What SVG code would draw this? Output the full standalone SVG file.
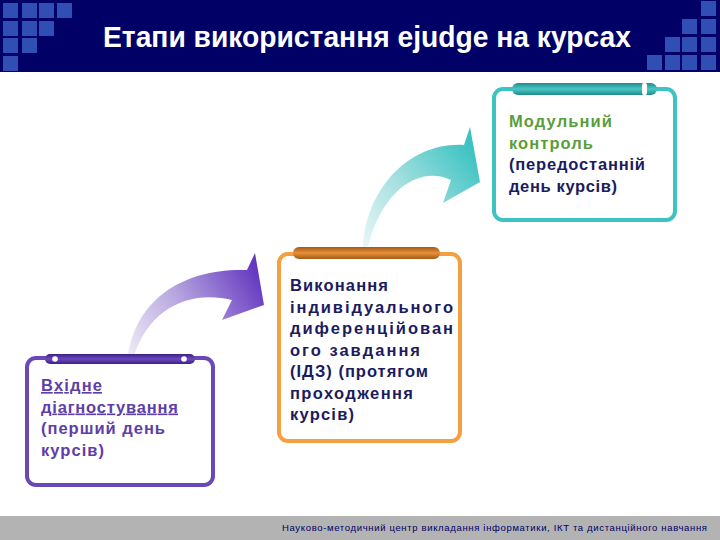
<svg xmlns="http://www.w3.org/2000/svg" width="720" height="540" viewBox="0 0 720 540">
<style>
.sq{fill:#2F4FB4}
.title{font-family:"Liberation Sans",Arial,sans-serif;font-weight:bold;font-size:29px;fill:#ffffff}
.t{font-family:"Liberation Sans",Arial,sans-serif;font-weight:bold;font-size:16.5px}
.foot{font-family:"Liberation Sans",Arial,sans-serif;font-size:9.5px;fill:#000066}
.box{fill:#ffffff;stroke-width:4}
</style>
<defs>
<linearGradient id="gPurple" x1="130" y1="356" x2="262" y2="280" gradientUnits="userSpaceOnUse">
<stop offset="0" stop-color="#EEEAF7"/>
<stop offset="0.45" stop-color="#B9A8E0"/>
<stop offset="1" stop-color="#6438C0"/>
</linearGradient>
<linearGradient id="gTeal" x1="365" y1="246" x2="478" y2="155" gradientUnits="userSpaceOnUse">
<stop offset="0" stop-color="#E6F6F6"/>
<stop offset="0.45" stop-color="#A6E0E0"/>
<stop offset="1" stop-color="#3CC2C2"/>
</linearGradient>
<linearGradient id="barP" x1="0" y1="0" x2="0" y2="1">
<stop offset="0" stop-color="#3E2080"/>
<stop offset="0.5" stop-color="#6A48C0"/>
<stop offset="1" stop-color="#3E2080"/>
</linearGradient>
<linearGradient id="barO" x1="0" y1="0" x2="0" y2="1">
<stop offset="0" stop-color="#A05A18"/>
<stop offset="0.5" stop-color="#E89038"/>
<stop offset="1" stop-color="#A05A18"/>
</linearGradient>
<linearGradient id="barT" x1="0" y1="0" x2="0" y2="1">
<stop offset="0" stop-color="#1E8C8C"/>
<stop offset="0.5" stop-color="#4CC6C6"/>
<stop offset="1" stop-color="#1E8C8C"/>
</linearGradient>
</defs>

<g id="header">
<rect x="0" y="0" width="720" height="72" fill="#000066"/>
<rect class="sq" x="3" y="3" width="15" height="15"/>
<rect class="sq" x="22" y="3" width="15" height="15"/>
<rect class="sq" x="39" y="3" width="15" height="15"/>
<rect class="sq" x="57" y="3" width="15" height="15"/>
<rect class="sq" x="3" y="21" width="15" height="15"/>
<rect class="sq" x="22" y="21" width="15" height="15"/>
<rect class="sq" x="39" y="21" width="15" height="15"/>
<rect class="sq" x="3" y="38" width="15" height="15"/>
<rect class="sq" x="22" y="38" width="15" height="15"/>
<rect class="sq" x="3" y="56" width="15" height="15"/>
<rect class="sq" x="701" y="1" width="15" height="15"/>
<rect class="sq" x="682" y="19" width="15" height="15"/>
<rect class="sq" x="701" y="19" width="15" height="15"/>
<rect class="sq" x="665" y="37" width="15" height="15"/>
<rect class="sq" x="682" y="37" width="15" height="15"/>
<rect class="sq" x="701" y="37" width="15" height="15"/>
<rect class="sq" x="647" y="55" width="15" height="15"/>
<rect class="sq" x="665" y="55" width="15" height="15"/>
<rect class="sq" x="682" y="55" width="15" height="15"/>
<rect class="sq" x="701" y="55" width="15" height="15"/>
<text class="title" x="103" y="47" textLength="528" lengthAdjust="spacingAndGlyphs">Етапи використання ejudge на курсах</text>
</g>

<g id="connectors">
<path d="M128 356 C136 300 182 268 247 270 L255 253 L264 305 L222 320 L232 300 C192 290 150 306 134 356 Z" fill="url(#gPurple)"/>
<path d="M363 247 C366 190 408 142 464 145 L470 127 L480 182 L443 203 L451 180 C422 166 384 186 368 246 Z" fill="url(#gTeal)"/>
</g>

<g id="node1">
<rect class="box" x="27" y="358" width="186" height="127" rx="9" stroke="#6A48B8"/>
<rect x="45" y="354" width="150" height="10" rx="5" fill="url(#barP)"/>
<circle cx="55" cy="359" r="2.8" fill="#ffffff"/>
<circle cx="184" cy="359" r="2.8" fill="#ffffff"/>
<g class="t" fill="#5E3EA8">
<text x="41" y="391" textLength="61" text-decoration="underline">Вхідне</text>
<text x="41" y="412.5" textLength="137" text-decoration="underline">діагностування</text>
<text x="41" y="434" textLength="124">(перший день</text>
<text x="41" y="455.5" textLength="63">курсів)</text>
</g>
</g>

<g id="node2">
<rect class="box" x="279" y="254" width="181" height="187" rx="9" stroke="#F4A040"/>
<rect x="293" y="247" width="147" height="12" rx="6" fill="url(#barO)"/>
<g class="t" fill="#1B1B5E">
<text x="290" y="291" textLength="98">Виконання</text>
<text x="290" y="312.5" textLength="163">індивідуального</text>
<text x="290" y="334" textLength="163">диференційован</text>
<text x="290" y="355.5" textLength="130">ого завдання</text>
<text x="290" y="377" textLength="138">(ІДЗ) (протягом</text>
<text x="290" y="398.5" textLength="123">проходження</text>
<text x="290" y="420" textLength="64">курсів)</text>
</g>
</g>

<g id="node3">
<rect class="box" x="494" y="89" width="181" height="131" rx="9" stroke="#3EC3C3"/>
<rect x="512" y="83" width="145" height="12" rx="6" fill="url(#barT)"/>
<rect x="642" y="83" width="5" height="12" rx="2" fill="#ffffff"/>
<g class="t">
<text x="509" y="127" textLength="103" fill="#5A9E3C">Модульний</text>
<text x="509" y="148.5" textLength="84" fill="#5A9E3C">контроль</text>
<text x="509" y="170" textLength="136" fill="#1B1B5E">(передостанній</text>
<text x="509" y="191.5" textLength="108" fill="#1B1B5E">день курсів)</text>
</g>
</g>

<g id="footer">
<rect x="0" y="516" width="720" height="24" fill="#B3B3B3"/>
<text class="foot" x="282" y="531" textLength="425">Науково-методичний центр  викладання інформатики, ІКТ та дистанційного навчання</text>
</g>
</svg>
